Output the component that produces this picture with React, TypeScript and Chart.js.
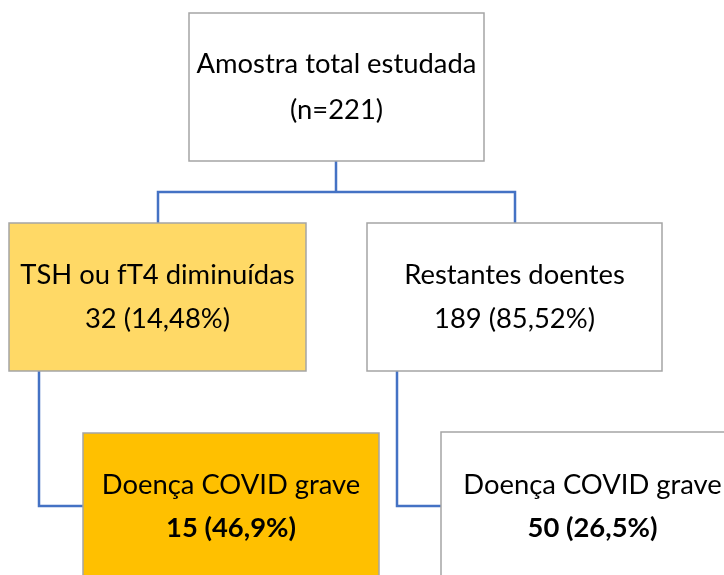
import React, { useEffect, useRef } from "react";
import { Chart, registerables } from "chart.js";

Chart.register(...registerables);

// ---- Data ----
const nodeTitles = [
  "Amostra total estudada",
  "TSH ou fT4 diminuídas",
  "Restantes doentes",
  "Doença COVID grave",
  "Doença COVID grave",
];
const nodeCounts = [221, 32, 189, 15, 50];
const nodePercents: (string | null)[] = [null, "14,48", "85,52", "46,9", "26,5"];
const nodeSubLabels = nodeCounts.map((n, i) =>
  nodePercents[i] === null ? `(n=${n})` : `${n} (${nodePercents[i]}%)`
);

// ---- Layout (plot units = pixels of the 724x575 frame) ----
const boxRects = [
  [189, 13, 484, 161],
  [9, 223, 306, 371],
  [367, 223, 662, 371],
  [83, 433, 379, 600],
  [441, 432, 744, 600],
];
const line1Y = [73, 284, 284, 494, 494];
const line2Y = [119, 328, 328, 537, 537];
const subBold = [false, false, false, true, true];
const boxFills = ["#FFFFFF", "#FFD966", "#FFFFFF", "#FFC000", "#FFFFFF"];

const connectors = [
  [{ x: 336, y: 161 }, { x: 336, y: 192 }],
  [{ x: 158, y: 223 }, { x: 158, y: 192 }, { x: 515, y: 192 }, { x: 515, y: 223 }],
  [{ x: 39, y: 371 }, { x: 39, y: 506 }, { x: 83, y: 506 }],
  [{ x: 397, y: 371 }, { x: 397, y: 506 }, { x: 441, y: 506 }],
];

const FONT = "Lato, 'Open Sans', sans-serif";

const boxesPlugin = {
  id: "flowBoxes",
  afterDatasetsDraw(chart: any) {
    const ctx = chart.ctx as CanvasRenderingContext2D;
    const xs = chart.scales.x;
    const ys = chart.scales.y;
    ctx.save();
    ctx.font = `100px ${FONT}`;
    const ref = ctx.measureText(nodeTitles[0]).width;
    const size = (100 * 280) / ref;
    boxRects.forEach((r, i) => {
      const x0 = xs.getPixelForValue(r[0]);
      const y0 = ys.getPixelForValue(r[1]);
      const x1 = xs.getPixelForValue(r[2]);
      const y1 = ys.getPixelForValue(r[3]);
      ctx.fillStyle = boxFills[i];
      ctx.fillRect(x0, y0, x1 - x0, y1 - y0);
      ctx.strokeStyle = "#A5A5A5";
      ctx.lineWidth = 1.5;
      ctx.strokeRect(x0, y0, x1 - x0, y1 - y0);
      const cx = (x0 + x1) / 2;
      ctx.fillStyle = "#000000";
      ctx.textAlign = "center";
      ctx.textBaseline = "alphabetic";
      ctx.font = `${size}px ${FONT}`;
      ctx.fillText(nodeTitles[i], cx, ys.getPixelForValue(line1Y[i]));
      ctx.font = `${subBold[i] ? "bold " : ""}${size}px ${FONT}`;
      ctx.fillText(nodeSubLabels[i], cx, ys.getPixelForValue(line2Y[i]));
    });
    ctx.restore();
  },
};

export default function App() {
  const ref = useRef<HTMLCanvasElement>(null);
  useEffect(() => {
    document.body.style.margin = "0";
    if (!ref.current) return;
    const chart = new Chart(ref.current, {
      type: "scatter",
      data: {
        datasets: connectors.map((pts) => ({
          data: pts,
          showLine: true,
          borderColor: "#4472C4",
          borderWidth: 2.5,
          pointRadius: 0,
          fill: false,
        })),
      },
      options: {
        animation: false,
        responsive: false,
        layout: { padding: 0 },
        plugins: { legend: { display: false }, tooltip: { enabled: false } },
        scales: {
          x: { type: "linear", min: 0, max: 724, display: false },
          y: { type: "linear", min: 0, max: 575, reverse: true, display: false },
        },
      },
      plugins: [boxesPlugin],
    });
    return () => chart.destroy();
  }, []);
  return (
    <div style={{ position: "absolute", left: 0, top: 0, width: 724, height: 575, background: "#fff" }}>
      <canvas ref={ref} width={724} height={575} />
    </div>
  );
}
